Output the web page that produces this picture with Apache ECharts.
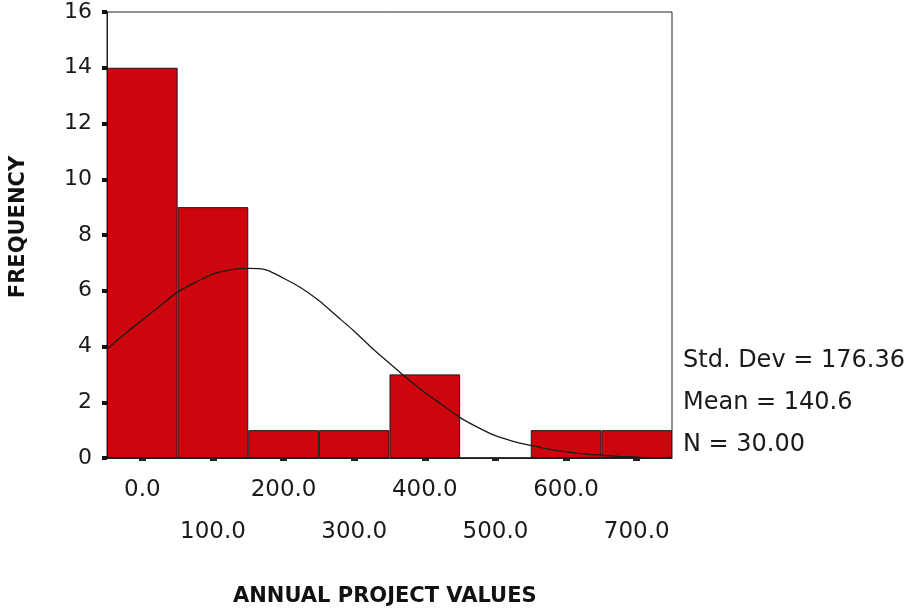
<!DOCTYPE html>
<html>
<head>
<meta charset="utf-8">
<script src="https://cdn.jsdelivr.net/npm/echarts@6/dist/echarts.min.js"></script>
<style>
html,body{margin:0;padding:0;background:#fff;}
#chart{width:914px;height:611px;}
</style>
</head>
<body>
<div id="chart"></div>
<script>
// Histogram bins (bin centres) and frequencies
const categories = ['0.0','100.0','200.0','300.0','400.0','500.0','600.0','700.0'];
const frequencies = [14, 9, 1, 1, 3, 0, 1, 1];
// Fitted normal curve
const curveX = [-50,-25,0,25,50,75,100,125,150,175,200,225,250,275,300,325,350,375,400,425,450,475,500,525,550,575,600,625,650,675,700,725];
const curveY = [3.9,4.45,4.95,5.45,5.95,6.3,6.6,6.75,6.8,6.75,6.45,6.1,5.65,5.1,4.55,3.95,3.4,2.85,2.35,1.9,1.45,1.1,0.8,0.6,0.45,0.32,0.22,0.15,0.1,0.06,0.03,0.0];
const yTicks = [0,2,4,6,8,10,12,14,16];
const statLines = ['Std. Dev = 176.36', 'Mean = 140.6', 'N = 30.00'];
const xTitle = 'ANNUAL PROJECT VALUES';
const yTitle = 'FREQUENCY';

const chart = echarts.init(document.getElementById('chart'), null, {renderer:'canvas'});
const FONT = 'DejaVu Sans';
const option = {
  animation: false,
  backgroundColor: '#ffffff',
  grid: {left: 107, right: 242, top: 12, bottom: 153, show: true, borderColor: '#222', borderWidth: 1, backgroundColor: 'transparent'},
  xAxis: [
    {
      type: 'category', data: categories, boundaryGap: true,
      axisLine: {onZero: false, lineStyle: {color: '#222', width: 1}},
      axisTick: {show: true, alignWithLabel: true, length: 3, lineStyle: {color: '#222', width: 7}},
      axisLabel: {
        interval: 0, margin: 22, color: '#1a1a1a', fontFamily: FONT, fontSize: 23, lineHeight: 21,
        formatter: (v, i) => (i % 2 === 0 ? v : '\n\n' + v)
      },
      splitLine: {show: false}
    },
    {
      type: 'value', min: -50, max: 750, show: false, position: 'bottom',
      axisLine: {onZero: false}
    }
  ],
  yAxis: {
    type: 'value', min: yTicks[0], max: yTicks[yTicks.length-1], interval: 2,
    axisLine: {show: true, onZero: false, lineStyle: {color: '#222', width: 1}},
    axisTick: {show: true, length: 5, lineStyle: {color: '#111', width: 4}},
    axisLabel: {margin: 15, color: '#1a1a1a', fontFamily: FONT, fontSize: 22},
    splitLine: {show: false}
  },
  graphic: [
    {type: 'text', left: 233, top: 586, style: {text: xTitle, font: 'bold 21px "DejaVu Sans"', fill: '#111'}},
    {type: 'text', x: 19, y: 227, rotation: Math.PI/2, style: {text: yTitle, font: 'bold 21px "DejaVu Sans"', fill: '#111', align: 'center', verticalAlign: 'middle'}},
    {type: 'text', x: 683, y: 361, style: {text: statLines[0], font: '24px "DejaVu Sans"', fill: '#1a1a1a', verticalAlign: 'middle'}},
    {type: 'text', x: 683, y: 403, style: {text: statLines[1], font: '24px "DejaVu Sans"', fill: '#1a1a1a', verticalAlign: 'middle'}},
    {type: 'text', x: 683, y: 445, style: {text: statLines[2], font: '24px "DejaVu Sans"', fill: '#1a1a1a', verticalAlign: 'middle'}}
  ],
  series: [
    {
      type: 'bar', xAxisIndex: 0, data: frequencies, barCategoryGap: '0%', barWidth: '100%',
      itemStyle: {color: '#cd050c', borderColor: '#1a1a1a', borderWidth: 1}
    },
    {
      type: 'line', xAxisIndex: 1, data: curveX.map((x, i) => [x, curveY[i]]),
      smooth: 0.3, showSymbol: false, symbol: 'none',
      lineStyle: {color: '#1a1a1a', width: 1.3}, z: 5
    }
  ]
};
chart.setOption(option);
</script>
</body>
</html>
